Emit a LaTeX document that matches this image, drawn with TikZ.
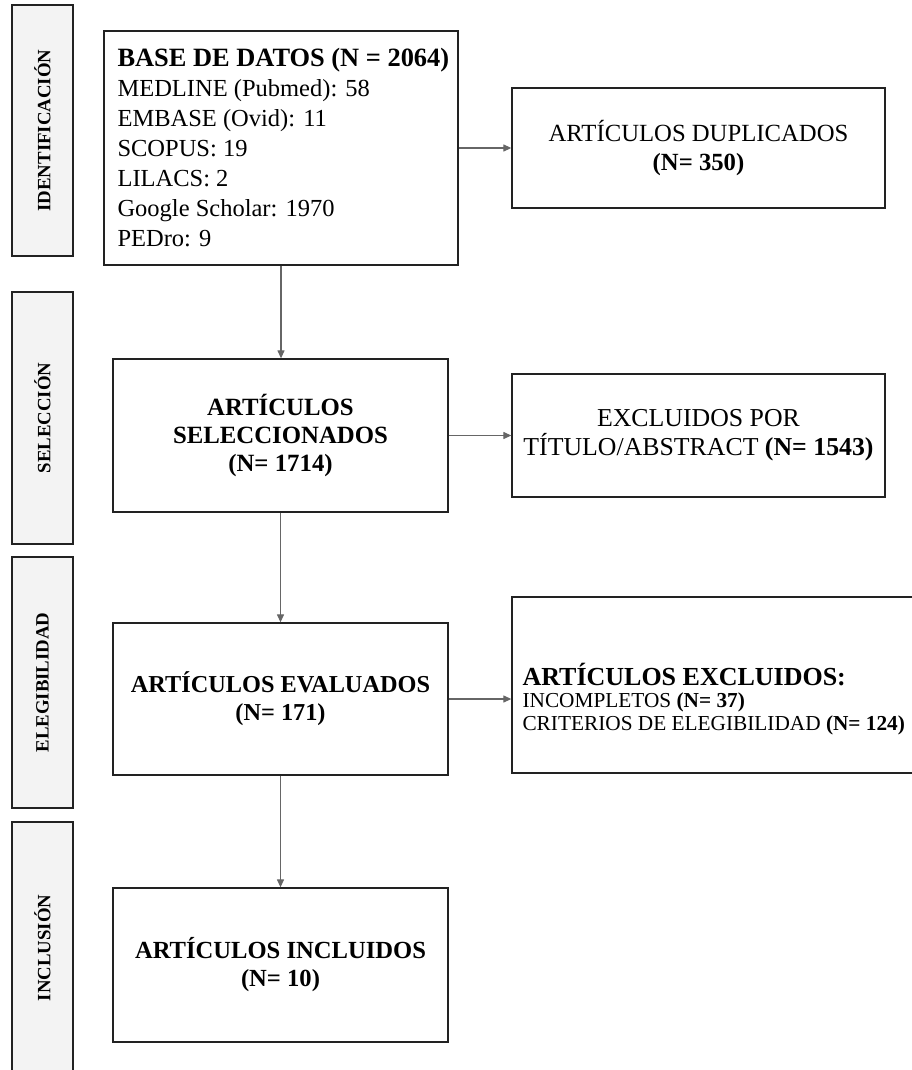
\documentclass[tikz,border=0pt]{standalone}
\usepackage{fontspec}
\setmainfont{Liberation Serif}
\usetikzlibrary{arrows.meta}
\definecolor{sidefill}{HTML}{F3F3F3}
\definecolor{edge}{HTML}{222222}
\definecolor{arrowgray}{HTML}{666666}
\begin{document}
\begin{tikzpicture}[x=1pt,y=-1pt,
  side/.style={draw=edge,line width=1.2pt,fill=sidefill,minimum width=61pt,inner sep=0pt},
  sidetext/.style={rotate=90,font=\fontsize{18.8}{21}\selectfont\bfseries},
  box/.style={draw=edge,line width=1.3pt,inner sep=0pt,align=center},
  flow/.style={draw=arrowgray,line width=1.2pt,-{Triangle[length=8pt,width=7pt]}}]
\useasboundingbox (0,0) rectangle (912,1070);
\begin{scope}
\clip (0,0) rectangle (912,1070);
% sidebars
\node[side,minimum height=251pt] (sid) at (42.5,130.5) {};
\node[sidetext] (tid) at (sid.center) {IDENTIFICACIÓN};
\node[side,minimum height=252pt] (ssel) at (42.5,418) {};
\node[sidetext] (tsel) at (ssel.center) {SELECCIÓN};
\node[side,minimum height=251pt] (sel2) at (42.5,682.5) {};
\node[sidetext] (tel) at (sel2.center) {ELEGIBILIDAD};
\node[side,minimum height=258pt] (sinc) at (42.5,951) {};
\node[sidetext] (tinc) at (42.5,948) {INCLUSIÓN};
% main boxes
\node[box,minimum width=354pt,minimum height=234pt] (base) at (281,148) {};
\node[anchor=west,align=left,font=\fontsize{24.5}{30}\selectfont] (basetxt) at (114,148)
  {{\fontsize{26.4}{30}\selectfont\textbf{BASE DE DATOS (N = 2064)}}\\MEDLINE (Pubmed): 58\\EMBASE (Ovid): 11\\SCOPUS: 19\\LILACS: 2\\Google Scholar: 1970\\PEDro: 9};
\node[box,minimum width=373pt,minimum height=120pt,font=\fontsize{24.7}{29}\selectfont] (dup) at (698.5,148)
  {ARTÍCULOS DUPLICADOS\\\textbf{(N= 350)}};
\node[box,minimum width=335pt,minimum height=153pt,font=\fontsize{24.8}{28}\selectfont\bfseries] (sel) at (280.5,435.5)
  {ARTÍCULOS\\SELECCIONADOS\\(N= 1714)};
\node[box,minimum width=373pt,minimum height=123pt,font=\fontsize{25.8}{29}\selectfont] (extit) at (698.5,435.5)
  {EXCLUIDOS POR\\TÍTULO/ABSTRACT \textbf{(N= 1543)}};
\node[box,minimum width=335pt,minimum height=152pt,font=\fontsize{24.3}{28}\selectfont\bfseries] (eval) at (280.5,699)
  {ARTÍCULOS EVALUADOS\\(N= 171)};
\node[box,minimum width=403pt,minimum height=176pt] (excrit) at (713.5,685) {};
\node[anchor=west,align=left,font=\fontsize{21.3}{22.5}\selectfont] (excrittxt) at (519,699)
  {{\fontsize{26}{27}\selectfont\textbf{ARTÍCULOS EXCLUIDOS:}}\\INCOMPLETOS \textbf{(N= 37)}\\CRITERIOS DE ELEGIBILIDAD \textbf{(N= 124)}};
\node[box,minimum width=335pt,minimum height=154pt,font=\fontsize{24.6}{28}\selectfont\bfseries] (incl) at (280.5,965)
  {ARTÍCULOS INCLUIDOS\\(N= 10)};
% connectors
\draw[flow] (base.south) -- (base.south |- sel.north);
\draw[flow] (base.east |- dup.west) -- (dup.west);
\draw[flow] (sel.east) -- (extit.west);
\draw[flow] (sel.south) -- (eval.north);
\draw[flow] (eval.east) -- (eval.east -| excrit.west);
\draw[flow] (eval.south) -- (incl.north);
\end{scope}
\end{tikzpicture}
\end{document}
